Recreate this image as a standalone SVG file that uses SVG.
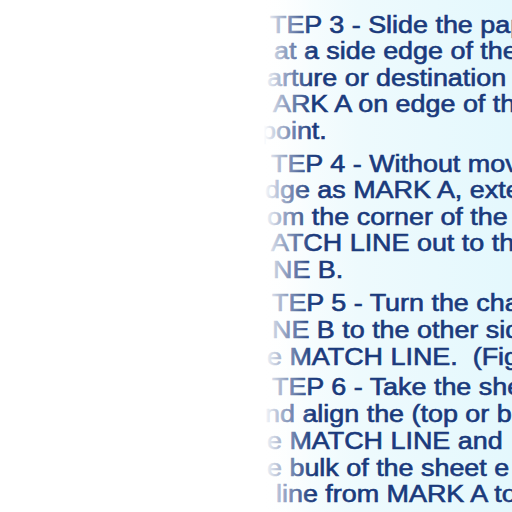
<svg xmlns="http://www.w3.org/2000/svg" width="512" height="512" viewBox="0 0 512 512">
<defs>
<linearGradient id="bg" x1="0" y1="0" x2="512" y2="0" gradientUnits="userSpaceOnUse">
<stop offset="0.5" stop-color="#ffffff"/>
<stop offset="0.7" stop-color="#eefafd"/>
<stop offset="1" stop-color="#e4f8fd"/>
</linearGradient>
<linearGradient id="fade" x1="0" y1="0" x2="512" y2="0" gradientUnits="userSpaceOnUse">
<stop offset="0.515" stop-color="#ffffff" stop-opacity="1"/>
<stop offset="0.56" stop-color="#ffffff" stop-opacity="0.5"/>
<stop offset="0.61" stop-color="#ffffff" stop-opacity="0"/>
</linearGradient>
<style>
.t{font-family:"Liberation Sans",Arial,sans-serif;font-size:23px;fill:#1a3a7c;stroke:#1a3a7c;stroke-width:0.6;white-space:pre;}
</style>
</defs>
<rect width="512" height="512" fill="url(#bg)"/>
<g id="page-text">
<text class="t" transform="translate(270,32.5) scale(1.17,1)">TEP 3 - Slide the pap</text>
<text class="t" transform="translate(274,59) scale(1.17,1)">at a side edge of the</text>
<text class="t" transform="translate(267,85.5) scale(1.17,1)">arture or destination</text>
<text class="t" transform="translate(273,112) scale(1.17,1)">ARK A on edge of the</text>
<text class="t" transform="translate(261,138.5) scale(1.17,1)">point.</text>
<text class="t" transform="translate(271,171.5) scale(1.17,1)">TEP 4 - Without mov</text>
<text class="t" transform="translate(265,198) scale(1.17,1)">dge as MARK A, exte</text>
<text class="t" transform="translate(267,224.5) scale(1.17,1)">om the corner of the</text>
<text class="t" transform="translate(271,251) scale(1.17,1)">ATCH LINE out to the</text>
<text class="t" transform="translate(273,277.5) scale(1.17,1)">NE B.</text>
<text class="t" transform="translate(272,311) scale(1.17,1)">TEP 5 - Turn the cha</text>
<text class="t" transform="translate(272,338) scale(1.17,1)">NE B to the other sid</text>
<text class="t" transform="translate(267,364.5) scale(1.17,1)">e MATCH LINE.  (Fig</text>
<text class="t" transform="translate(272,395) scale(1.17,1)">TEP 6 - Take the she</text>
<text class="t" transform="translate(265,422) scale(1.17,1)">nd align the (top or b</text>
<text class="t" transform="translate(267,449) scale(1.17,1)">e MATCH LINE and</text>
<text class="t" transform="translate(267,475.5) scale(1.17,1)">e bulk of the sheet e</text>
<text class="t" transform="translate(276,502) scale(1.17,1)">line from MARK A to</text>
</g>
<rect width="512" height="512" fill="url(#fade)"/>
</svg>
